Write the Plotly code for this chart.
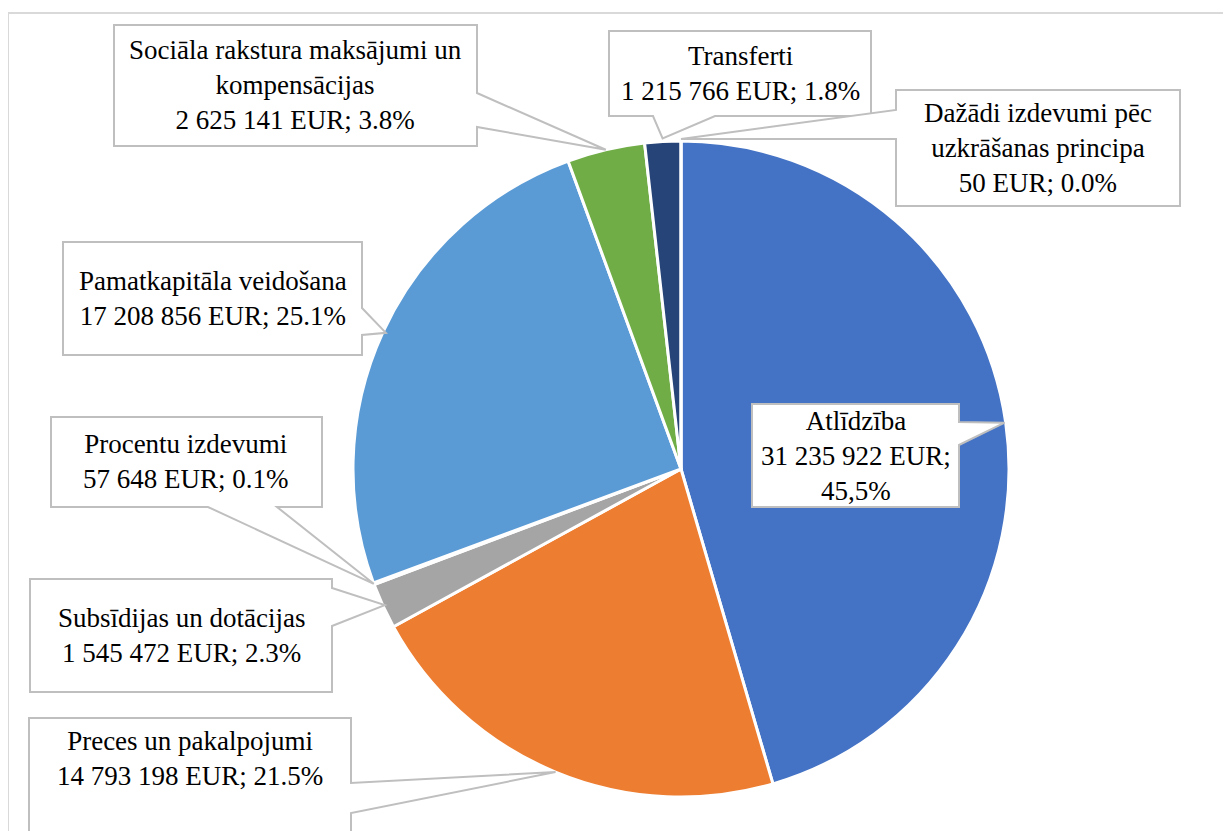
import math
import plotly.graph_objects as go

# ---------------- data ----------------
categories = ["Atlīdzība", "Preces un pakalpojumi", "Subsīdijas un dotācijas",
              "Procentu izdevumi", "Pamatkapitāla veidošana",
              "Sociāla rakstura maksājumi un kompensācijas", "Transferti",
              "Dažādi izdevumi pēc uzkrāšanas principa"]
display_names = ["Atlīdzība", "Preces un pakalpojumi", "Subsīdijas un dotācijas",
                 "Procentu izdevumi", "Pamatkapitāla veidošana",
                 "Sociāla rakstura maksājumi un<br>kompensācijas", "Transferti",
                 "Dažādi izdevumi pēc<br>uzkrāšanas principa"]
values = [31235922, 14793198, 1545472, 57648, 17208856, 2625141, 1215766, 50]
value_labels = ["31 235 922", "14 793 198", "1 545 472", "57 648",
                "17 208 856", "2 625 141", "1 215 766", "50"]
percent_labels = ["45,5%", "21.5%", "2.3%", "0.1%", "25.1%", "3.8%", "1.8%", "0.0%"]
colors = ["#4472C4", "#ED7D31", "#A5A5A5", "#FFC000", "#5B9BD5", "#70AD47", "#264478", "#9E480E"]

# ---------------- layout geometry (screen pixels) ----------------
W, H = 1231, 831
OFF = 8  # page body margin
CX, CY, R = 681, 469, 328

# callout boxes: (x0, y0, x1, y1), wedge side, wedge base (a, b), tip radius offset, pct separator
callouts = [
    ((752, 404, 959, 507), "right", (422, 445), -1, "<br>"),
    ((29, 718, 351, 860), "right", (783, 813), 0, " "),
    ((30, 579, 332, 692), "right", (588, 626), -2, " "),
    ((51, 417, 322, 507), "bottom", (208, 277), 0, " "),
    ((63, 242, 362, 355), "right", (308, 335), -3, " "),
    ((114, 25, 477, 146), "right", (93, 127), 0, " "),
    ((609, 31, 871, 116), "bottom", (653, 715), 3, " "),
    ((896, 90, 1180, 206), "left", (110, 139), 2, " "),
]


def px(x):
    return (x - OFF) / W


def py(y):
    return 1 - (y - OFF) / H


fig = go.Figure()
fig.add_trace(go.Pie(
    labels=categories, values=values, sort=False, direction="clockwise", rotation=0,
    marker=dict(colors=colors, line=dict(color="white", width=3)),
    textinfo="none", showlegend=False, hoverinfo="label+value+percent",
    domain=dict(x=[px(CX - R), px(CX + R)], y=[py(CY + R), py(CY - R)]),
))

shapes = [dict(type="rect", xref="paper", yref="paper", x0=px(8), y0=py(13), x1=px(1260), y1=py(870),
               line=dict(color="#D9D9D9", width=2), layer="below")]
annotations = []

total = sum(values)
cum = 0.0
for i, v in enumerate(values):
    mid = (cum + v / 2) / total * 2 * math.pi
    cum += v
    (x0, y0, x1, y1), side, (a, b), off, sep = callouts[i]
    r = R + off
    tx, ty = CX + r * math.sin(mid), CY - r * math.cos(mid)
    if side == "right":
        pts = [(x0, y0), (x1, y0), (x1, a), (tx, ty), (x1, b), (x1, y1), (x0, y1)]
    elif side == "bottom":
        pts = [(x0, y0), (x1, y0), (x1, y1), (b, y1), (tx, ty), (a, y1), (x0, y1)]
    else:
        pts = [(x0, y0), (x1, y0), (x1, y1), (x0, y1), (x0, b), (tx, ty), (x0, a)]
    path = "M " + " L ".join(f"{px(p[0]):.5f},{py(p[1]):.5f}" for p in pts) + " Z"
    shapes.append(dict(type="path", xref="paper", yref="paper", path=path,
                       fillcolor="white", line=dict(color="#BFBFBF", width=2), layer="above"))
    text = f"{display_names[i]}<br>{value_labels[i]} EUR;{sep}{percent_labels[i]}"
    cy_text = (y0 + 800) / 2 - 1 if i == 1 else (y0 + y1) / 2
    annotations.append(dict(x=px((x0 + x1) / 2), y=py(cy_text), xref="paper", yref="paper",
                            text=text, showarrow=False, xanchor="center", yanchor="middle",
                            align="center",
                            font=dict(family="Liberation Serif", size=27, color="#000000")))

fig.update_layout(width=W, height=H, margin=dict(l=0, r=0, t=0, b=0),
                  paper_bgcolor="white", plot_bgcolor="white",
                  shapes=shapes, annotations=annotations)
fig.write_html("out.html")
